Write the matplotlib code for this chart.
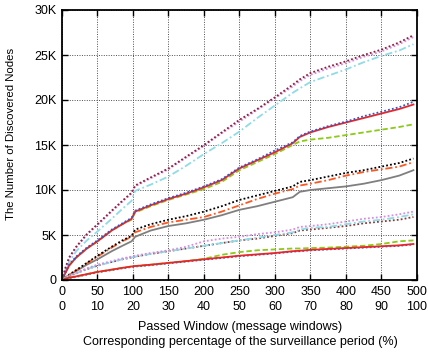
import matplotlib
matplotlib.use("Agg")
import matplotlib.pyplot as plt
import numpy as np

plt.rcParams['font.family'] = ['Liberation Sans', 'DejaVu Sans']
plt.rcParams['font.size'] = 9

# passed windows (x) shared by every curve
windows = [0, 5, 10, 20, 35, 50, 70, 85, 98, 103, 125, 150, 175, 200, 225,
           250, 275, 300, 325, 335, 350, 375, 400, 425, 450, 475, 495]

# discovered nodes, in thousands
a_maroon = [0, 1.4, 2.5, 3.7, 5.1, 6.2, 7.7, 8.8, 9.7, 10.5, 11.4, 12.4, 13.7, 15.0, 16.4,
            17.8, 19.0, 20.3, 21.7, 22.3, 23.0, 23.7, 24.3, 25.0, 25.6, 26.4, 27.2]
a_violet = [0, 1.3, 2.4, 3.6, 5.0, 6.1, 7.6, 8.7, 9.6, 10.4, 11.3, 12.3, 13.6, 14.9, 16.3,
            17.6, 18.9, 20.2, 21.5, 22.1, 22.8, 23.5, 24.1, 24.8, 25.4, 26.2, 27.0]
a_cyan = [0, 1.1, 2.0, 3.2, 4.4, 5.4, 6.8, 7.9, 8.8, 9.9, 10.6, 11.5, 12.7, 14.0, 15.2,
          16.5, 18.0, 19.4, 20.8, 21.3, 22.0, 22.7, 23.4, 24.2, 24.9, 25.5, 26.2]

b_blue = [0, 0.9, 1.7, 2.6, 3.6, 4.4, 5.6, 6.3, 6.9, 7.7, 8.4, 9.1, 9.7, 10.4, 11.2,
          12.5, 13.4, 14.4, 15.3, 16.0, 16.5, 17.1, 17.6, 18.2, 18.7, 19.2, 19.8]
b_red = [0, 0.8, 1.6, 2.5, 3.5, 4.3, 5.5, 6.2, 6.8, 7.6, 8.3, 9.0, 9.6, 10.3, 11.1,
         12.4, 13.3, 14.2, 15.2, 15.9, 16.4, 17.0, 17.5, 18.0, 18.5, 19.0, 19.5]
b_green = [0, 0.8, 1.6, 2.5, 3.5, 4.3, 5.5, 6.2, 6.7, 7.5, 8.2, 8.9, 9.5, 10.1, 10.9,
           12.2, 13.1, 14.0, 15.0, 15.4, 15.6, 15.8, 16.1, 16.4, 16.7, 17.0, 17.3]

c_black = [0, 0.3, 0.6, 1.1, 1.9, 2.7, 3.7, 4.4, 4.9, 5.6, 6.2, 6.7, 7.1, 7.6, 8.2,
           8.9, 9.4, 9.9, 10.4, 10.9, 11.1, 11.5, 11.9, 12.2, 12.6, 13.0, 13.5]
c_orange = [0, 0.3, 0.55, 1.05, 1.85, 2.6, 3.6, 4.3, 4.8, 5.3, 5.9, 6.4, 6.7, 7.0, 7.6,
            8.3, 9.0, 9.6, 10.1, 10.5, 10.7, 11.1, 11.6, 12.0, 12.3, 12.6, 13.1]
c_gray = [0, 0.25, 0.5, 1.0, 1.7, 2.3, 3.2, 3.8, 4.3, 4.8, 5.5, 6.0, 6.3, 6.7, 7.2,
          7.8, 8.2, 8.7, 9.2, 9.8, 10.0, 10.2, 10.4, 10.7, 11.1, 11.6, 12.2]

d_violet = [0, 0.3, 0.5, 0.8, 1.3, 1.7, 2.1, 2.4, 2.6, 2.7, 3.0, 3.3, 3.7, 4.3, 4.6,
            4.8, 5.1, 5.3, 5.6, 5.9, 6.0, 6.2, 6.5, 6.8, 7.0, 7.3, 7.6]
d_cyan = [0, 0.25, 0.45, 0.75, 1.2, 1.6, 2.0, 2.3, 2.5, 2.6, 2.9, 3.2, 3.5, 3.8, 4.1,
          4.4, 4.7, 5.0, 5.3, 5.6, 5.8, 5.9, 6.2, 6.5, 6.7, 7.0, 7.3]
d_brown = [0, 0.25, 0.45, 0.75, 1.2, 1.6, 2.0, 2.3, 2.5, 2.6, 2.9, 3.2, 3.5, 3.8, 4.1,
           4.4, 4.6, 4.9, 5.2, 5.5, 5.6, 5.8, 6.0, 6.3, 6.5, 6.7, 7.0]

e_green = [0, 0.15, 0.25, 0.4, 0.65, 0.9, 1.15, 1.35, 1.5, 1.55, 1.7, 1.9, 2.1, 2.35, 2.8,
           3.1, 3.3, 3.4, 3.5, 3.5, 3.55, 3.6, 3.7, 3.8, 4.0, 4.3, 4.4]
e_red = [0, 0.15, 0.25, 0.4, 0.65, 0.9, 1.15, 1.35, 1.5, 1.55, 1.7, 1.9, 2.1, 2.3, 2.5,
         2.7, 2.85, 3.0, 3.2, 3.25, 3.35, 3.45, 3.55, 3.65, 3.75, 3.85, 4.0]
e_blue = [0, 0.1, 0.2, 0.35, 0.6, 0.85, 1.1, 1.3, 1.45, 1.5, 1.65, 1.85, 2.05, 2.25, 2.45,
          2.65, 2.8, 2.95, 3.15, 3.2, 3.3, 3.4, 3.5, 3.6, 3.7, 3.8, 3.95]

x_ticks = [0, 50, 100, 150, 200, 250, 300, 350, 400, 450, 500]
pct_ticks = [0, 10, 20, 30, 40, 50, 60, 70, 80, 90, 100]
y_ticks = [0, 5000, 10000, 15000, 20000, 25000, 30000]
y_labels = ['0', '5K', '10K', '15K', '20K', '25K', '30K']

DOT = (0, (1, 1.2))
DASH = (0, (3, 1.5))
DASHDOT = (0, (4, 1.5, 1, 1.5))

series = [
    (a_cyan, '#8fdbe6', DASHDOT),
    (a_violet, '#d88ee0', DOT),
    (a_maroon, '#8b2040', DOT),
    (b_green, '#8cc919', DASH),
    (b_red, '#e8262a', '-'),
    (b_blue, '#3357c8', DOT),
    (c_gray, '#7f7f7f', '-'),
    (c_orange, '#ff5722', DASHDOT),
    (c_black, '#000000', DOT),
    (d_brown, '#8b3a3a', DOT),
    (d_cyan, '#8fdbe6', DASHDOT),
    (d_violet, '#d88ee0', DOT),
    (e_blue, '#3357c8', DOT),
    (e_green, '#8cc919', DASH),
    (e_red, '#e8262a', '-'),
]

W, H = 428, 356
fig = plt.figure(figsize=(W / 100, H / 100), dpi=100)
ax = fig.add_axes([62 / W, 1 - 280 / H, 355 / W, 270 / H])

for vals, color, ls in series:
    ax.plot(windows, np.array(vals) * 1000, color=color, linestyle=ls, lw=1.3)

ax.set_xlim(0, 500)
ax.set_ylim(0, 30000)
ax.set_xticks(x_ticks)
ax.set_yticks(y_ticks)
ax.set_yticklabels(y_labels)
ax.tick_params(direction='in', length=4, width=1, top=True, right=True, labelsize=9, pad=4)
ax.grid(True, linestyle=(0, (1, 1.5)), color='0.3', lw=0.7)
ax.set_axisbelow(True)
for sp in ax.spines.values():
    sp.set_linewidth(1.3)

# second row of x labels: percentage of the surveillance period
sec = ax.secondary_xaxis(-15.6 / 270, functions=(lambda w: w / 5, lambda p: p * 5))
sec.set_xticks(pct_ticks)
sec.tick_params(length=0, labelsize=9, pad=4)
sec.spines['bottom'].set_visible(False)

fig.text(240 / W, 1 - 326.7 / H, 'Passed Window (message windows)',
         ha='center', va='center', fontsize=9)
fig.text(240 / W, 1 - 342.3 / H, 'Corresponding percentage of the surveillance period (%)',
         ha='center', va='center', fontsize=9)
fig.text(11 / W, 1 - 133.5 / H, 'The Number of Discovered Nodes',
         ha='center', va='center', rotation=90, fontsize=8.2)

fig.savefig('out.png', dpi=100)
